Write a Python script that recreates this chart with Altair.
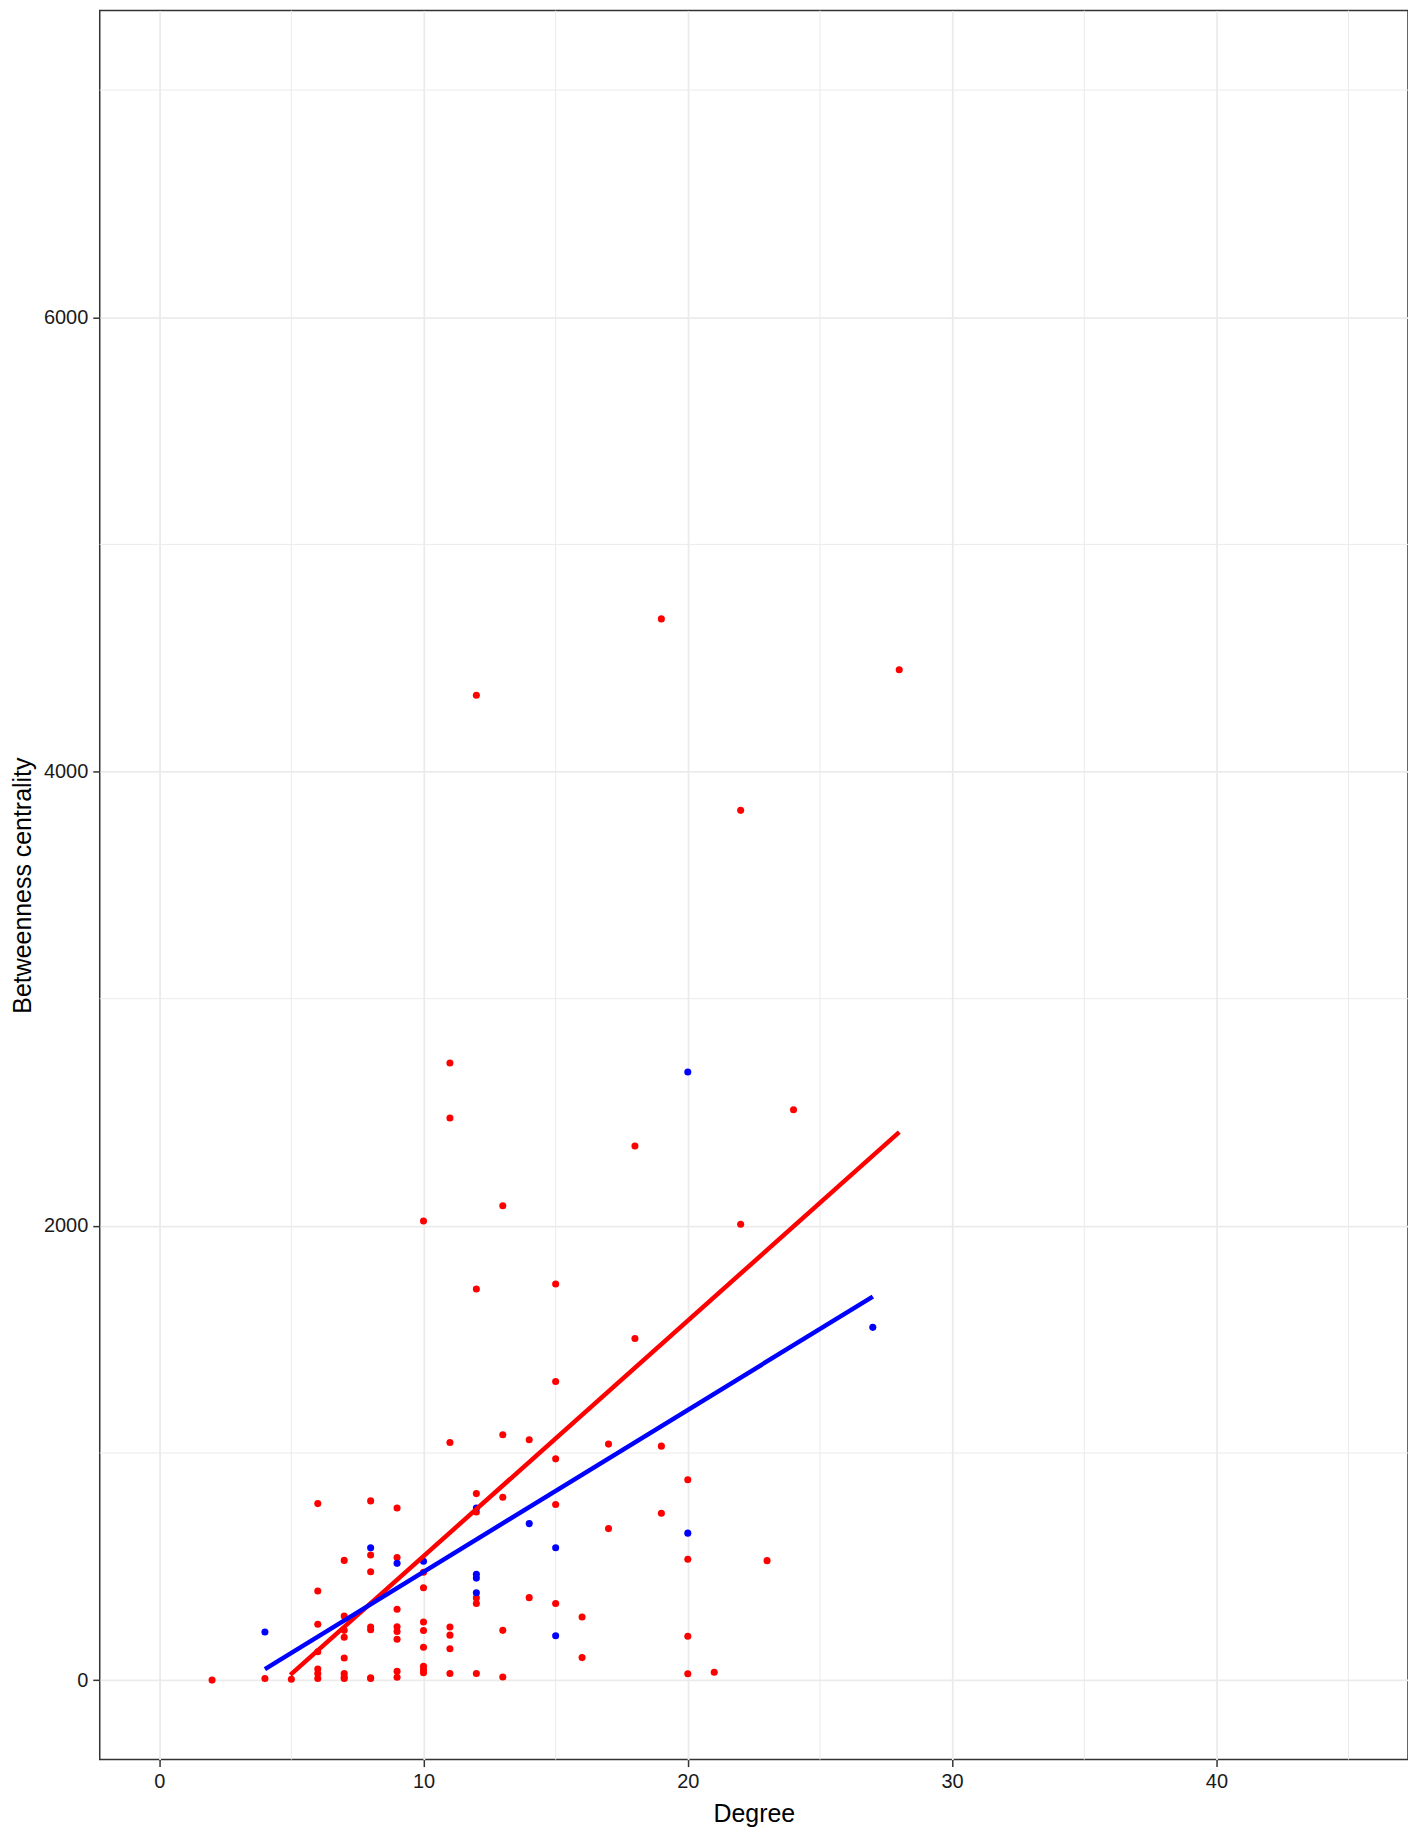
import altair as alt
import pandas as pd

# ---- data ----
red_degree = [2, 4, 5,
              6, 6, 6, 6, 6, 6, 6,
              7, 7, 7, 7, 7, 7, 7, 7,
              8, 8, 8, 8, 8, 8, 8,
              9, 9, 9, 9, 9, 9, 9, 9,
              10, 10, 10, 10, 10, 10, 10, 10, 10,
              11, 11, 11, 11, 11, 11, 11,
              12, 12, 12, 12, 12, 12, 12,
              13, 13, 13, 13, 13,
              14, 14,
              15, 15, 15, 15, 15,
              16, 16,
              17, 17,
              18, 18,
              19, 19, 19,
              20, 20, 20, 20,
              21,
              22, 22,
              23,
              24,
              28]
red_betweenness = [0, 7, 4,
                   777, 392, 246, 125, 49, 29, 7,
                   527, 282, 219, 189, 97, 29, 14, 7,
                   789, 551, 477, 234, 222, 10, 7,
                   758, 540, 312, 235, 214, 180, 39, 13,
                   2021, 475, 407, 256, 218, 145, 61, 46, 32,
                   2717, 2475, 1046, 234, 198, 138, 29,
                   4336, 1722, 821, 740, 362, 337, 29,
                   2088, 1080, 805, 219, 14,
                   1058, 363,
                   1744, 1315, 974, 773, 337,
                   278, 99,
                   1039, 667,
                   2351, 1504,
                   4672, 1030, 735,
                   882, 532, 193, 28,
                   35,
                   3829, 2007,
                   526,
                   2511,
                   4448]
blue_degree = [4, 8, 9, 10, 12, 12, 12, 12, 14, 15, 15, 20, 20, 27]
blue_betweenness = [212, 583, 514, 523, 758, 466, 449, 385, 689, 583, 195, 647, 2677, 1553]

groups = ["red", "blue"]
group_colors = ["#FF0000", "#0000FF"]

x_ticks = [0, 10, 20, 30, 40]
y_ticks = [0, 2000, 4000, 6000]
minor_x = [5, 15, 25, 35, 45]
minor_y = [1000, 3000, 5000, 7000]

x_title = "Degree"
y_title = "Betweenness centrality"

# ---- tables ----
df = pd.concat([
    pd.DataFrame({"degree": red_degree, "betweenness": red_betweenness, "group": "red"}),
    pd.DataFrame({"degree": blue_degree, "betweenness": blue_betweenness, "group": "blue"}),
], ignore_index=True)
mx = pd.DataFrame({"degree": minor_x})
my = pd.DataFrame({"betweenness": minor_y})

xscale = alt.Scale(domain=[-2.25, 47.25], nice=False, zero=False)
yscale = alt.Scale(domain=[-350, 7350], nice=False, zero=False)
xaxis = alt.Axis(values=x_ticks, format="d")
yaxis = alt.Axis(values=y_ticks, format="d")


def X(f="degree"):
    return alt.X(f"{f}:Q", scale=xscale, axis=xaxis, title=x_title)


def Y(f="betweenness"):
    return alt.Y(f"{f}:Q", scale=yscale, axis=yaxis, title=y_title)


color = alt.Color("group:N", scale=alt.Scale(domain=groups, range=group_colors), legend=None)

minor_v = alt.Chart(mx).mark_rule(color="#EBEBEB", strokeWidth=1).encode(x=X())
minor_h = alt.Chart(my).mark_rule(color="#EBEBEB", strokeWidth=1).encode(y=Y())

points = alt.Chart(df).mark_circle(size=50, opacity=1).encode(x=X(), y=Y(), color=color)

# linear fit per group; the part below the y limit (0) is dropped, starting
# at the first of 80 evenly spaced prediction points that is >= 0
lines = (
    alt.Chart(df)
    .transform_regression("degree", "betweenness", groupby=["group"])
    .transform_joinaggregate(dmin="min(degree)", dmax="max(degree)",
                             bmin="min(betweenness)", bmax="max(betweenness)",
                             groupby=["group"])
    .transform_calculate(slope="(datum.bmax - datum.bmin) / (datum.dmax - datum.dmin)",
                         step="(datum.dmax - datum.dmin) / 79")
    .transform_calculate(cross="datum.degree - datum.betweenness / datum.slope")
    .transform_calculate(
        deg2="datum.betweenness < 0 ? datum.dmin + ceil((datum.cross - datum.dmin) / datum.step) * datum.step : datum.degree")
    .transform_calculate(
        bet2="datum.betweenness < 0 ? datum.bmin + (datum.deg2 - datum.dmin) * datum.slope : datum.betweenness")
    .mark_line(strokeWidth=4.5)
    .encode(x=X("deg2"), y=Y("bet2"), color=color, detail="group:N")
)

chart = (
    alt.layer(minor_v, minor_h, points, lines)
    .properties(
        width=1312,
        height=1754,
        autosize="none",
        padding={"left": 92, "top": 0, "right": 0, "bottom": 72},
    )
    .configure_view(stroke="#333333", strokeWidth=1.5)
    .configure_axis(
        grid=True,
        gridColor="#EBEBEB",
        gridWidth=1.8,
        domain=False,
        ticks=True,
        tickColor="#333333",
        tickSize=7,
        tickWidth=1.5,
        labelFont="Liberation Sans",
        labelFontSize=20,
        labelColor="#1a1a1a",
        labelPadding=5,
        titleFont="Liberation Sans",
        titleFontSize=25,
        titleFontWeight="normal",
        titleColor="#000000",
    )
    .configure_axisX(titlePadding=10)
    .configure_axisY(titlePadding=8)
)

chart.save("out.html", embed_options={"renderer": "svg", "actions": False})
